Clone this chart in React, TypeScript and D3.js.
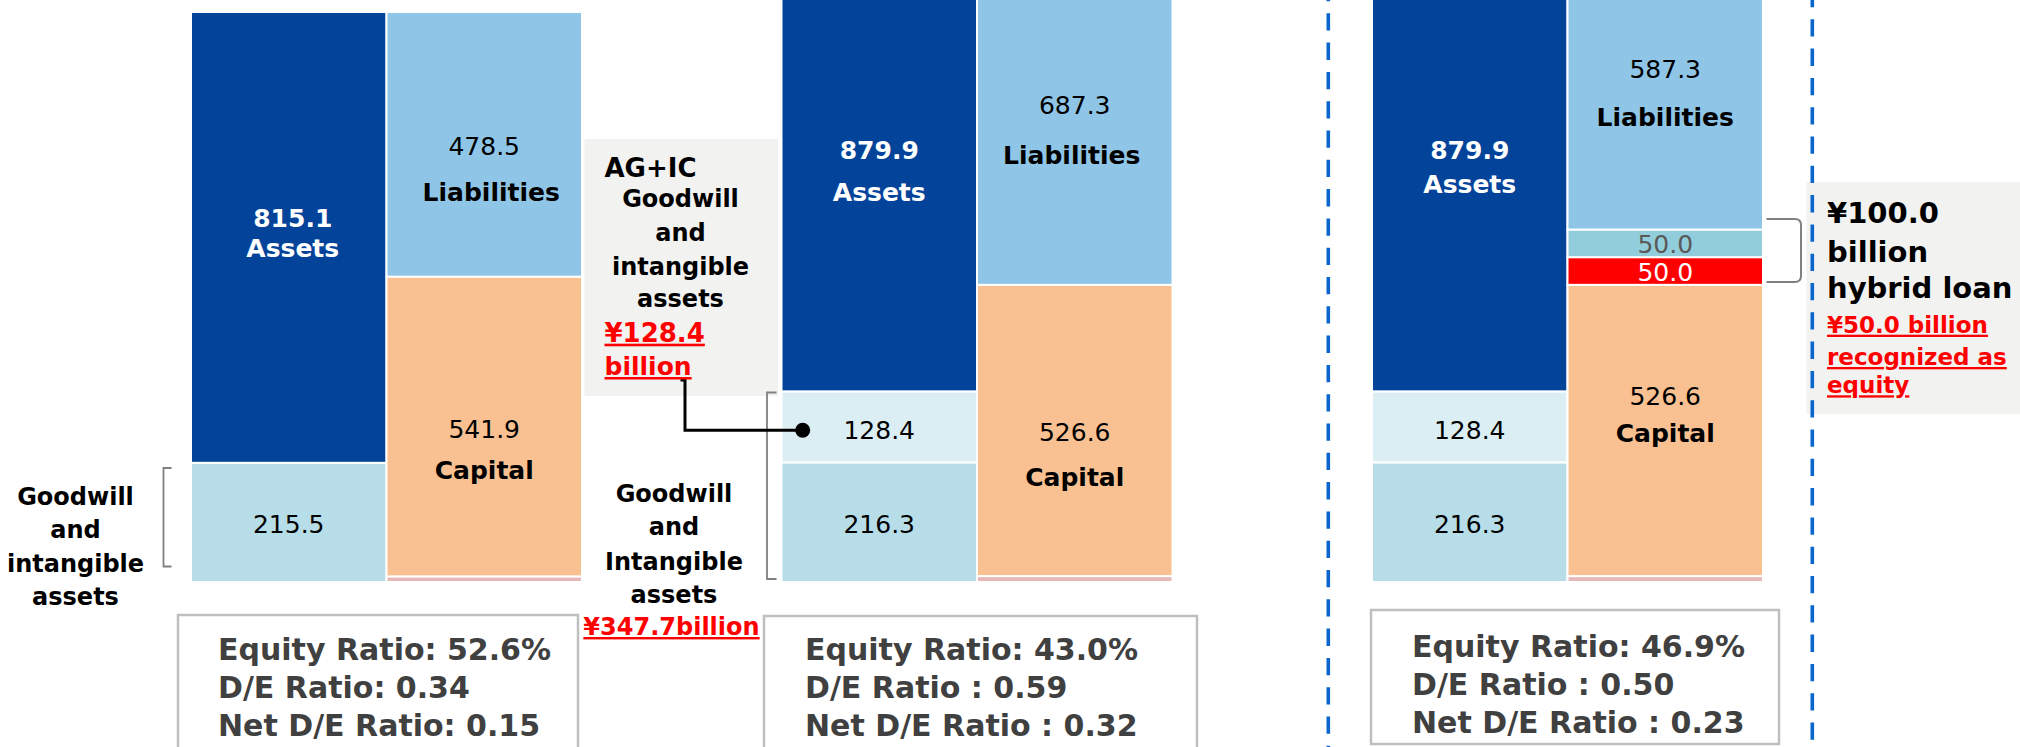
import React from "react";
import * as d3 from "d3";

// ---------- DATA (¥ billion) ----------
const scenarios = ["before", "acquisition", "hybrid"];
const goodwillValues = [215.5, 216.3, 216.3];
const agicGoodwillValues = [0, 128.4, 128.4];
const assetValues = [815.1, 879.9, 879.9];
const otherEquityValues = [10.2, 10.7, 10.7]; // thin pink strip (estimated)
const capitalValues = [541.9, 526.6, 526.6];
const hybridEquityValues = [0, 0, 50.0];
const hybridDebtValues = [0, 0, 50.0];
const liabilityValues = [478.5, 687.3, 587.3];
const equityRatioLabels = ["Equity Ratio: 52.6%", "Equity Ratio: 43.0%", "Equity Ratio: 46.9%"];
const deRatioLabels = ["D/E Ratio: 0.34", "D/E Ratio : 0.59", "D/E Ratio : 0.50"];
const netDeRatioLabels = ["Net D/E Ratio: 0.15", "Net D/E Ratio : 0.32", "Net D/E Ratio : 0.23"];

// ---------- STYLE ----------
const FONT = "'DejaVu Sans', Verdana, sans-serif";
const C = {
  assets: "#03449A",
  goodwill: "#B6DDE8",
  agic: "#DBEEF3",
  liab: "#8FC5E6",
  capital: "#F9C091",
  other: "#E6B8B7",
  hybridDebt: "#92CDDC",
  hybridEq: "#FF0000",
  box: "#F2F2F0",
  red: "#FF0000",
  gray: "#404040",
  bracket: "#808080",
  dash: "#0A66CC",
};

// label layout (pixel centres of text inside bars, small horizontal nudges)
const labelLayout = [
  { assetsNum: 218, assetsWord: 248, liabNum: 146, liabWord: 192, capNum: 429, capWord: 470, agic: 0, gw: 524, adx: 4, ldx: 7 },
  { assetsNum: 150, assetsWord: 192, liabNum: 105, liabWord: 155, capNum: 432, capWord: 477, agic: 430, gw: 524, adx: 0, ldx: -3 },
  { assetsNum: 150, assetsWord: 184, liabNum: 69, liabWord: 117, capNum: 396, capWord: 433, agic: 430, gw: 524, adx: 0, ldx: 0 },
];
const boxLayout = [
  { x: 178, y: 615, w: 400, h: 150, tx: 218, b: [660, 698, 736] },
  { x: 764, y: 616, w: 433, h: 150, tx: 805, b: [660, 698, 736] },
  { x: 1371, y: 610, w: 408, h: 134, tx: 1412, b: [657, 695, 733] },
];

export default function App() {
  const W = 2020, H = 747;
  const y = d3.scaleLinear().domain([0, 1030.6]).range([582, 12]);
  const xGroup = d3.scaleBand<string>().domain(scenarios).range([191, 191 + 3 * 590.5]);
  const xSide = d3.scaleBand<string>().domain(["assets", "claims"]).range([0, 391]);
  const colW = xSide.bandwidth();

  const assetStack = [
    { key: "goodwill", vals: goodwillValues, fill: C.goodwill },
    { key: "agic", vals: agicGoodwillValues, fill: C.agic },
    { key: "assets", vals: assetValues, fill: C.assets },
  ];
  const claimStack = [
    { key: "other", vals: otherEquityValues, fill: C.other },
    { key: "capital", vals: capitalValues, fill: C.capital },
    { key: "hybridEq", vals: hybridEquityValues, fill: C.hybridEq },
    { key: "hybridDebt", vals: hybridDebtValues, fill: C.hybridDebt },
    { key: "liab", vals: liabilityValues, fill: C.liab },
  ];

  const segs: any[] = [];
  scenarios.forEach((s, i) => {
    const x0 = xGroup(s)!;
    [
      { side: "assets", stack: assetStack },
      { side: "claims", stack: claimStack },
    ].forEach(({ side, stack }) => {
      let acc = 0;
      stack.forEach((seg) => {
        const v = seg.vals[i];
        if (v > 0) {
          segs.push({
            key: `${s}-${seg.key}`,
            x: x0 + xSide(side)!,
            y0: y(acc + v),
            y1: y(acc),
            fill: seg.fill,
          });
        }
        acc += v;
      });
    });
  });

  const txt = (key: string, x: number, yy: number, s: string, o: any = {}) => (
    <text
      key={key}
      x={x}
      y={yy}
      fontFamily={FONT}
      fontSize={o.size ?? 25}
      fontWeight={o.weight ?? "normal"}
      fill={o.fill ?? "#000"}
      textAnchor={o.anchor ?? "middle"}
      dominantBaseline={o.base ?? "central"}
      textDecoration={o.underline ? "underline" : undefined}
    >
      {s}
    </text>
  );

  const barLabels: any[] = [];
  scenarios.forEach((s, i) => {
    const L = labelLayout[i];
    const ax = xGroup(s)! + xSide("assets")! + colW / 2;
    const cx = xGroup(s)! + xSide("claims")! + colW / 2;
    barLabels.push(txt(`an${i}`, ax + L.adx, L.assetsNum, assetValues[i].toFixed(1), { fill: "#fff", weight: "bold" }));
    barLabels.push(txt(`aw${i}`, ax + L.adx, L.assetsWord, "Assets", { fill: "#fff", weight: "bold" }));
    barLabels.push(txt(`ln${i}`, cx, L.liabNum, liabilityValues[i].toFixed(1)));
    barLabels.push(txt(`lw${i}`, cx + L.ldx, L.liabWord, "Liabilities", { weight: "bold" }));
    barLabels.push(txt(`cn${i}`, cx, L.capNum, capitalValues[i].toFixed(1)));
    barLabels.push(txt(`cw${i}`, cx, L.capWord, "Capital", { weight: "bold" }));
    barLabels.push(txt(`gw${i}`, ax, L.gw, goodwillValues[i].toFixed(1)));
    if (agicGoodwillValues[i] > 0)
      barLabels.push(txt(`ag${i}`, ax, L.agic, agicGoodwillValues[i].toFixed(1)));
    if (hybridDebtValues[i] > 0) {
      const base = otherEquityValues[i] + capitalValues[i];
      const yd = (y(base + hybridEquityValues[i] + hybridDebtValues[i]) + y(base + hybridEquityValues[i])) / 2;
      const ye = (y(base + hybridEquityValues[i]) + y(base)) / 2;
      barLabels.push(txt(`hd${i}`, cx, yd + 1, hybridDebtValues[i].toFixed(1), { fill: "#595959" }));
      barLabels.push(txt(`he${i}`, cx, ye + 1, hybridEquityValues[i].toFixed(1), { fill: "#fff" }));
    }
  });

  return (
    <svg
      width={W}
      height={H}
      viewBox={`0 0 ${W} ${H}`}
      style={{ position: "absolute", left: 0, top: 0, background: "#fff" }}
    >
      <rect x={0} y={0} width={W} height={H} fill="#fff" />

      {/* gray annotation boxes */}
      <rect x={584.5} y={139} width={193.5} height={257} fill={C.box} />
      <rect x={1806.5} y={182} width={214} height={232} fill={C.box} />

      {/* bars */}
      {segs.map((d) => (
        <rect
          key={d.key}
          x={d.x}
          y={d.y0}
          width={colW}
          height={Math.max(0, d.y1 - d.y0)}
          fill={d.fill}
          stroke="#fff"
          strokeWidth={2}
        />
      ))}
      {barLabels}

      {/* brackets */}
      <path d="M171.5,468 H163.5 V566.5 H171.5" fill="none" stroke={C.bracket} strokeWidth={1.8} />
      <path d="M776.5,392.5 H767 V579 H776.5" fill="none" stroke={C.bracket} strokeWidth={1.8} />
      <path
        d="M1766.5,219 H1795 Q1801,219 1801,225 V276 Q1801,282 1795,282 H1766.5"
        fill="none"
        stroke={C.bracket}
        strokeWidth={2}
      />

      {/* connector from AG+IC box */}
      <path d="M680.5,380 H685 V430.3 H802.7" fill="none" stroke="#000" strokeWidth={3} />
      <circle cx={802.7} cy={430.3} r={7.5} fill="#000" />

      {/* left annotation */}
      {["Goodwill", "and", "intangible", "assets"].map((s, k) =>
        txt(`lt${k}`, 75.5, [505, 538.3, 571.7, 605][k], s, { size: 24, weight: "bold", base: "auto" })
      )}

      {/* middle annotation */}
      {["Goodwill", "and", "Intangible", "assets"].map((s, k) =>
        txt(`mt${k}`, 674, [501.7, 535, 570, 603.3][k], s, { size: 24, weight: "bold", base: "auto" })
      )}
      {txt("mred", 671.5, 635, "¥347.7billion", {
        size: 24,
        weight: "bold",
        fill: C.red,
        base: "auto",
        underline: true,
      })}

      {/* AG+IC box text */}
      {txt("agic0", 604.5, 176.7, "AG+IC", { size: 26, weight: "bold", anchor: "start", base: "auto" })}
      {["Goodwill", "and", "intangible", "assets"].map((s, k) =>
        txt(`ag${k}`, 680.5, [206.7, 240.7, 275, 307.3][k], s, { size: 24, weight: "bold", base: "auto" })
      )}
      {txt("agr1", 604.5, 341.7, "¥128.4", {
        size: 26,
        weight: "bold",
        fill: C.red,
        anchor: "start",
        base: "auto",
        underline: true,
      })}
      {txt("agr2", 604.5, 375, "billion", {
        size: 25,
        weight: "bold",
        fill: C.red,
        anchor: "start",
        base: "auto",
        underline: true,
      })}

      {/* hybrid box text */}
      {["¥100.0", "billion", "hybrid loan"].map((s, k) =>
        txt(`hb${k}`, 1827, [223.3, 261.7, 298.3][k], s, { size: 29, weight: "bold", anchor: "start", base: "auto" })
      )}
      {["¥50.0 billion", "recognized as", "equity"].map((s, k) =>
        txt(`hr${k}`, 1827, [332.7, 365, 393.3][k], s, {
          size: 23,
          weight: "bold",
          fill: C.red,
          anchor: "start",
          base: "auto",
          underline: true,
        })
      )}

      {/* metric boxes */}
      {boxLayout.map((b, i) => (
        <g key={`box${i}`}>
          <rect x={b.x} y={b.y} width={b.w} height={b.h} fill="#fff" stroke="#BFBFBF" strokeWidth={2.5} />
          {[equityRatioLabels[i], deRatioLabels[i], netDeRatioLabels[i]].map((s, k) =>
            txt(`m${i}${k}`, b.tx, b.b[k], s, {
              size: 30,
              weight: "bold",
              fill: C.gray,
              anchor: "start",
              base: "auto",
            })
          )}
        </g>
      ))}

      {/* dashed separators */}
      <line x1={1328.3} y1={-16} x2={1328.3} y2={760} stroke={C.dash} strokeWidth={3.6} strokeDasharray="17.3 12" />
      <line x1={1812.3} y1={-10} x2={1812.3} y2={760} stroke={C.dash} strokeWidth={3.6} strokeDasharray="17.3 12" />
    </svg>
  );
}
